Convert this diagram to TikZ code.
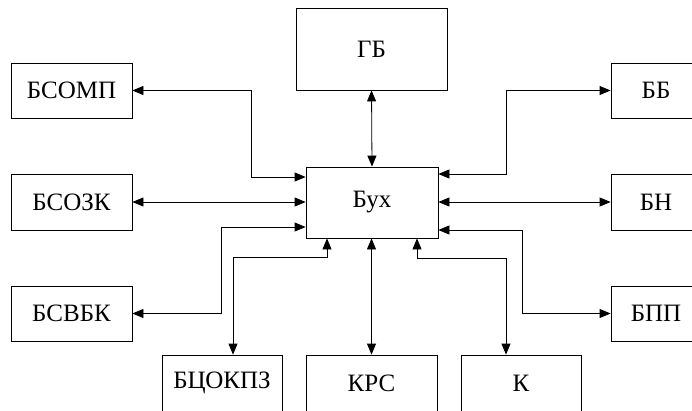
\documentclass[tikz,border=0pt]{standalone}
\usepackage{fontspec}
\setmainfont{Liberation Serif}
\usetikzlibrary{arrows.meta}
\tikzset{
  box/.style={draw, line width=0.8pt, inner sep=0pt, font=\fontsize{25}{29}\selectfont},
  link/.style={line width=0.8pt, {Triangle[length=11pt,width=9pt]}-{Triangle[length=11pt,width=9pt]}},
}
\begin{document}
\begin{tikzpicture}[x=1pt, y=-1pt]
\useasboundingbox (0,0) rectangle (692,410);
\clip (0,0) rectangle (692,410);
% centre block and top block
\node[box, minimum width=132pt, minimum height=71pt] (bux) at (372,202.5) {Бух};
\node[box, minimum width=151pt, minimum height=82pt] (gb) at (371.5,49) {ГБ};
% left column
\node[box, minimum width=121pt, minimum height=55pt] (bsomp) at (71.5,90.5) {БСОМП};
\node[box, minimum width=121pt, minimum height=56pt] (bsozk) at (71.5,202) {БСОЗК};
\node[box, minimum width=121pt, minimum height=55pt] (bsvbk) at (71.5,313.5) {БСВБК};
% right column
\node[box, minimum width=90pt, minimum height=55pt] (bb) at (656,90.5) {ББ};
\node[box, minimum width=90pt, minimum height=56pt] (bn) at (656,202) {БН};
\node[box, minimum width=90pt, minimum height=55pt] (bpp) at (656,313.5) {БПП};
% bottom row
\node[box, minimum width=120pt, minimum height=56pt] (btsokpz) at (222,383) {БЦОКПЗ};
\node[box, minimum width=131pt, minimum height=56pt] (krs) at (371.5,383) {КРС};
\node[box, minimum width=120pt, minimum height=56pt] (k) at (521,383) {К};
% connectors
\draw[link] (gb.south) -- (bux.north);
\draw[link] (bsomp.east) -- (251,90.5) -- (251,177) -- (bux.west |- 0,177);
\draw[link] (bsozk.east) -- (bux.west |- bsozk.east);
\draw[link] (bux.west |- 0,227) -- (221,227) -- (221,313.5) -- (bsvbk.east);
\draw[link] (bux.east |- 0,174) -- (506,174) -- (506,90.5) -- (bb.west);
\draw[link] (bux.east |- bn.west) -- (bn.west);
\draw[link] (bux.east |- 0,230) -- (522,230) -- (522,313.5) -- (bpp.west);
\draw[link] (bux.south -| 327,0) -- (327,257) -- (233,257) -- (btsokpz.north -| 233,0);
\draw[link] (bux.south -| krs.north) -- (krs.north);
\draw[link] (bux.south -| 417,0) -- (417,258) -- (506,258) -- (k.north -| 506,0);
\end{tikzpicture}
\end{document}
